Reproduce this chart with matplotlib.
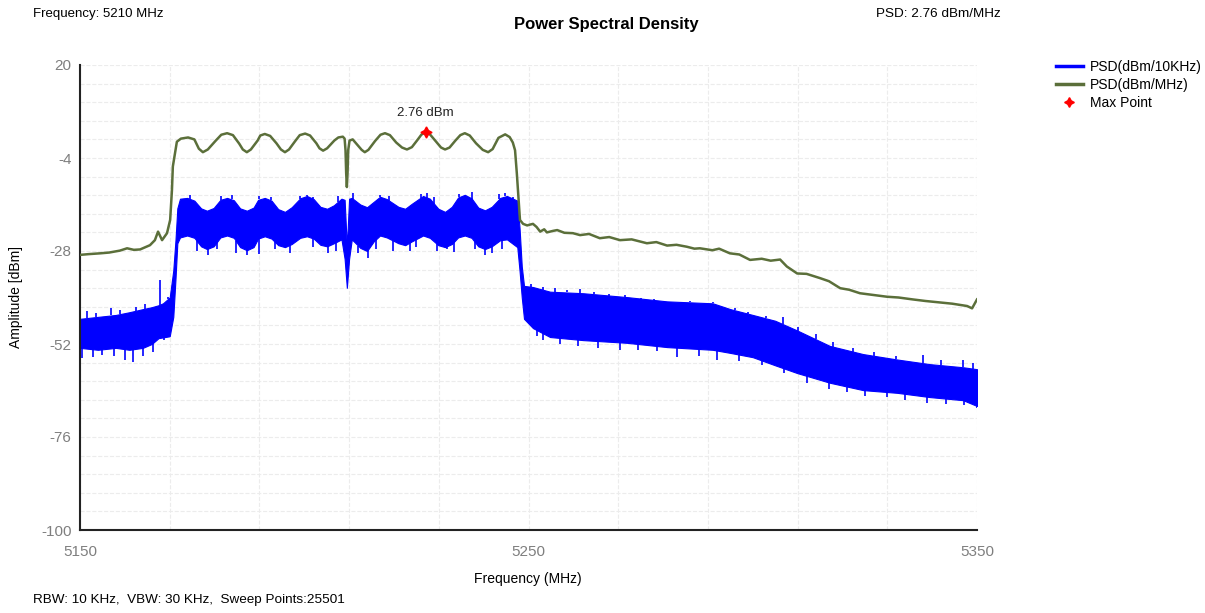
import numpy as np
import matplotlib
matplotlib.use("Agg")
import matplotlib.pyplot as plt
from matplotlib.lines import Line2D

plt.rcParams['font.family'] = ['Liberation Sans', 'DejaVu Sans']
plt.rcParams['axes.unicode_minus'] = False

# PSD(dBm/MHz) trace
green_f = [5150, 5152, 5154.5, 5156.5, 5158.9, 5160.5, 5162, 5163.4, 5165.6, 5166.7,
           5167.4, 5168.3, 5169.4, 5170.1, 5170.5, 5170.7, 5171.6, 5172.5, 5174.1, 5175.5,
           5176.5, 5177.4, 5178.5, 5180.2, 5181.5, 5182.8, 5184.1, 5185.5, 5186.3, 5187.2,
           5188.1, 5189.6, 5190.2, 5191.2, 5192.4, 5193.8, 5194.8, 5195.7, 5196.6, 5198.0,
           5199.0, 5200.2, 5201.3, 5202.7, 5203.4, 5204.2, 5205.1, 5206.7, 5207.6, 5208.6,
           5209.0, 5209.2, 5209.35, 5209.5, 5209.65, 5209.8, 5210.1, 5210.8, 5212.0, 5212.8,
           5213.5, 5214.3, 5215.8, 5217.0, 5218.0, 5219.1, 5220.5, 5221.8, 5222.9, 5224.0,
           5225.2, 5226.1, 5227.1, 5228.1, 5229.4, 5230.5, 5231.4, 5232.4, 5233.7, 5234.8,
           5235.8, 5236.9, 5238.3, 5239.8, 5241.0, 5242.0, 5243.3, 5244.8, 5245.8, 5246.5,
           5247.0, 5247.4, 5247.8, 5248.1, 5248.8, 5249.7, 5250.3, 5251.0, 5251.8, 5252.6,
           5253.5, 5254.1, 5255.5, 5256.4, 5258.0, 5259.9, 5261.5, 5263.5, 5265.9, 5268.0,
           5270.4, 5273.0, 5276.4, 5278.5, 5280.9, 5283.0, 5285.3, 5287.0, 5288.2, 5291.0,
           5292.5, 5294.9, 5297.0, 5299.4, 5302.0, 5304.0, 5306.1, 5307.6, 5309.9, 5312.0,
           5315.0, 5317.0, 5319.5, 5321.5, 5323.9, 5326.5, 5329.9, 5332.5, 5335.7, 5338.5,
           5341.8, 5344.5, 5347.8, 5348.9, 5350.0]
green_db = [-29.0, -28.8, -28.6, -28.4, -27.9, -27.3, -27.7, -27.6, -26.5, -25.2,
            -23.0, -25.2, -23.4, -20.0, -12.3, -6.2, 0.2, 1.0, 1.3, 0.8,
            -1.6, -2.5, -1.8, 0.4, 2.0, 2.4, 1.9, -0.3, -1.8, -2.5,
            -1.8, 0.5, 1.8, 2.2, 1.7, -0.2, -1.8, -2.5, -1.8, 0.4,
            1.9, 2.3, 1.8, -0.2, -1.5, -2.1, -1.5, 0.5, 1.3, 1.5,
            1.0, -2.0, -8.0, -11.5, -8.0, -2.0, 0.5, 0.8, -0.8, -1.9,
            -2.5, -1.9, 0.4, 2.0, 2.4, 1.9, 0.0, -1.3, -1.8, -1.2,
            0.6, 2.0, 2.76, 2.0, 0.2, -1.3, -1.8, -1.3, 0.5, 1.9,
            2.4, 1.8, -0.2, -1.9, -2.5, -1.7, 1.2, 2.1, 1.4, 0.0,
            -2.0, -8.0, -15.0, -20.0, -21.0, -21.4, -21.2, -21.0, -21.8, -23.0,
            -22.4, -23.2, -22.8, -22.6, -23.3, -23.4, -23.9, -23.6, -24.7, -24.4,
            -25.2, -25.0, -26.0, -25.7, -26.6, -26.4, -26.9, -27.4, -27.3, -27.8,
            -27.4, -28.6, -28.9, -30.3, -30.0, -30.5, -30.2, -32.0, -33.8, -33.9,
            -35.0, -35.8, -37.6, -38.0, -38.9, -39.3, -39.8, -40.0, -40.5, -40.9,
            -41.3, -41.6, -42.2, -42.8, -40.5]

# PSD(dBm/10KHz) trace: upper / lower edge of the noise band
blue_f = [5150, 5154, 5158, 5161, 5164, 5166, 5167.5, 5168.5, 5170, 5170.8,
          5171.3, 5171.7, 5172.3, 5173.9, 5175.5, 5177, 5178.3, 5179.8, 5181.3, 5182.8,
          5184.3, 5185.7, 5187.2, 5188.7, 5189.7, 5191.2, 5192.7, 5194.2, 5195.7, 5197.2,
          5199.1, 5200.6, 5202.1, 5203.6, 5205.1, 5206.6, 5208.3, 5209.0, 5209.5, 5210.0,
          5210.6, 5212.5, 5214, 5215.5, 5216.9, 5218.4, 5221, 5222.5, 5224, 5226.5,
          5228, 5229.9, 5231.4, 5232.9, 5234.3, 5235.8, 5237.3, 5238.8, 5240.3, 5241.8,
          5243.7, 5245.2, 5247.5, 5248.0, 5248.5, 5249, 5251, 5254.8, 5262.2, 5272,
          5280.9, 5291.1, 5295, 5300, 5305, 5309.9, 5317.2, 5324.6, 5332.2, 5339.5,
          5346.9, 5350]
blue_hi = [-45.5, -45.0, -44.5, -43.8, -43.0, -42.5, -42.0, -41.5, -40.0, -33.0,
           -25.0, -17.0, -14.5, -14.3, -15.0, -17.0, -17.6, -16.9, -14.8, -14.3,
           -14.9, -17.0, -17.6, -16.8, -14.8, -14.3, -15.0, -17.2, -17.9, -16.7,
           -14.4, -13.8, -14.6, -16.6, -17.1, -16.2, -14.5, -14.8, -27.0, -14.5,
           -14.3, -16.0, -16.7, -15.3, -14.0, -14.6, -16.6, -17.1, -15.8, -13.8,
           -14.5, -17.1, -17.9, -16.6, -14.2, -13.5, -14.4, -16.8, -17.5, -16.6,
           -14.3, -13.8, -15.0, -22.0, -32.0, -37.0, -37.3, -38.5, -38.9, -39.9,
           -41.0, -41.5, -43.0, -44.5, -46.0, -48.5, -52.5, -54.6, -56.0, -57.2,
           -58.0, -58.5]
blue_lo = [-53.0, -53.5, -53.0, -53.5, -53.0, -52.0, -50.5, -50.3, -50.0, -45.0,
           -35.0, -26.0, -24.5, -24.0, -24.6, -26.8, -27.5, -26.8, -24.5, -24.0,
           -24.6, -27.0, -27.8, -27.0, -24.8, -24.2, -24.8, -26.5, -27.0, -26.2,
           -24.6, -24.2, -24.8, -26.4, -26.8, -26.0, -25.0, -30.0, -37.5, -30.0,
           -25.0, -27.2, -28.0, -25.5, -24.0, -24.5, -26.0, -26.5, -25.5, -24.0,
           -24.6, -26.5, -27.0, -26.2, -24.5, -24.0, -24.6, -26.8, -27.5, -26.8,
           -25.2, -25.0, -27.0, -33.0, -40.0, -45.5, -47.9, -50.2, -51.0, -51.7,
           -52.8, -53.5, -54.3, -55.4, -57.5, -59.5, -62.0, -63.9, -64.6, -65.7,
           -66.5, -68.0]

# single spikes sticking out of the band
spike_up_f = [5151.5, 5153.5, 5156.9, 5159, 5162.5, 5164.5, 5167.8, 5169.6,
              5174.5, 5181.5, 5183.8, 5190, 5192.5, 5199, 5200.6, 5202, 5207.5, 5210.9,
              5217, 5219, 5226, 5227.4, 5229, 5234.5, 5237.4, 5243.5, 5244.8, 5246.5,
              5250.5, 5253.2, 5256, 5258.5, 5261.5, 5264.5, 5268, 5271.5, 5275, 5278,
              5282.2, 5286, 5291.1, 5296, 5299, 5303, 5306.7, 5310, 5314, 5318,
              5322.4, 5327, 5332, 5338, 5342, 5346.9, 5349]
spike_up_db = [-43.5, -44.0, -42.8, -43.2, -42.4, -41.8, -35.5, -39.8,
               -13.6, -13.8, -13.5, -13.7, -14.0, -13.8, -13.5, -14.0, -13.9, -13.1,
               -13.5, -13.9, -13.4, -13.1, -14.0, -13.4, -12.7, -13.3, -13.1, -14.0,
               -36.5, -37.2, -37.5, -38.0, -37.8, -38.5, -39.0, -39.4, -40.0, -40.3,
               -41.1, -40.8, -41.1, -42.8, -43.8, -44.8, -45.0, -47.5, -49.5, -51.5,
               -53.1, -54.0, -55.0, -54.8, -56.2, -56.1, -56.8]
spike_dn_f = [5150.5, 5152.9, 5155, 5157.5, 5160, 5161.8, 5164, 5166.3, 5168.7,
              5176, 5178.6, 5180.5, 5184.8, 5187.3, 5189.8, 5193.5, 5196.8, 5202, 5205.3,
              5207, 5212, 5214.2, 5216, 5219.8, 5223.5, 5225, 5229.5, 5231.8, 5233.5,
              5238, 5240.3, 5241.9, 5244,
              5252, 5253.2, 5257, 5261, 5265.5, 5270.4, 5274.5, 5278.7, 5283.1, 5288,
              5292, 5297, 5302, 5307, 5312.1, 5317, 5321, 5325, 5329.9, 5334,
              5338.9, 5343, 5347, 5350]
spike_dn_db = [-55.5, -55.4, -54.8, -55.0, -56.1, -56.6, -55.0, -54.0, -51.0,
               -28.0, -29.0, -27.5, -28.6, -29.0, -28.8, -27.5, -28.5, -27.0, -28.6,
               -28.0, -28.5, -29.9, -27.5, -28.1, -28.0, -27.0, -28.0, -27.6, -28.3,
               -27.5, -29.0, -28.6, -27.5,
               -50.0, -51.0, -52.0, -52.5, -53.1, -53.5, -53.5, -53.8, -55.3, -55.0,
               -56.1, -56.5, -57.5, -59.5, -62.1, -63.5, -64.5, -65.5, -65.6, -66.5,
               -67.3, -67.5, -67.8, -68.5]

max_f = 5227.1
max_db = 2.76

blue = '#0000ff'
green = '#5b6f3a'

fig = plt.figure(figsize=(12.05, 6.13), dpi=100)
ax = fig.add_axes([80/1205, 1-530/613, 897/1205, 465/613])

ax.fill_between(blue_f, blue_lo, blue_hi, color=blue, linewidth=0.8, edgecolor=blue, zorder=2)
mid_up = np.interp(spike_up_f, blue_f, blue_hi)
ax.vlines(spike_up_f, mid_up, spike_up_db, color=blue, linewidth=1.2, zorder=2)
mid_dn = np.interp(spike_dn_f, blue_f, blue_lo)
ax.vlines(spike_dn_f, spike_dn_db, mid_dn, color=blue, linewidth=1.2, zorder=2)

ax.plot(green_f, green_db, color=green, linewidth=1.8, zorder=3)
ax.plot([max_f], [max_db], marker=(4, 1, 0), color='red', markersize=8, linestyle='none', zorder=4)
ax.annotate('2.76 dBm', (max_f, max_db), xytext=(0, 9), textcoords='offset points',
            ha='center', va='bottom', fontsize=9.5, color='#222222')

ax.set_xlim(5150, 5350)
ax.set_ylim(-100, 20)
ax.set_xticks([5150, 5250, 5350])
ax.set_xticks(np.arange(5170, 5350, 20), minor=True)
ax.set_yticks(np.arange(-100, 21, 24))
ax.set_yticks(np.arange(-100, 20.1, 4.8), minor=True)
ax.grid(which='both', color='#ececec', linestyle='--', linewidth=0.8, zorder=0)
ax.set_axisbelow(True)
ax.tick_params(which='both', length=0)
ax.tick_params(axis='x', pad=11, labelsize=11, labelcolor='#7f7f7f')
ax.tick_params(axis='y', pad=6, labelsize=11, labelcolor='#7f7f7f')
for s in ['top', 'right']:
    ax.spines[s].set_visible(False)
for s in ['left', 'bottom']:
    ax.spines[s].set_linewidth(1.5)
    ax.spines[s].set_color('#222222')

fig.text(528/1205, 1-579/613, 'Frequency (MHz)', ha='center', va='center', fontsize=10)
fig.text(16/1205, 1-297/613, 'Amplitude [dBm]', ha='center', va='center', rotation=90, fontsize=10)
fig.text(606/1205, 1-24/613, 'Power Spectral Density', ha='center', va='center',
         fontsize=12, fontweight='bold')
fig.text(33/1205, 1-14/613, 'Frequency: 5210 MHz', ha='left', va='center', fontsize=9.5)
fig.text(876/1205, 1-14/613, 'PSD: 2.76 dBm/MHz', ha='left', va='center', fontsize=9.7)
fig.text(33/1205, 1-600/613, 'RBW: 10 KHz,  VBW: 30 KHz,  Sweep Points:25501', ha='left',
         va='center', fontsize=9.7)

handles = [Line2D([], [], color=blue, linewidth=2.5),
           Line2D([], [], color=green, linewidth=2.5),
           Line2D([], [], color='red', marker=(4, 1, 0), markersize=7, linestyle='none')]
fig.legend(handles, ['PSD(dBm/10KHz)', 'PSD(dBm/MHz)', 'Max Point'], loc='upper left',
           bbox_to_anchor=(1050/1205, 1-54/613), frameon=False, fontsize=10,
           handlelength=2.0, handletextpad=0.5, labelspacing=0.3, borderaxespad=0)

fig.savefig('out.png', dpi=100)
